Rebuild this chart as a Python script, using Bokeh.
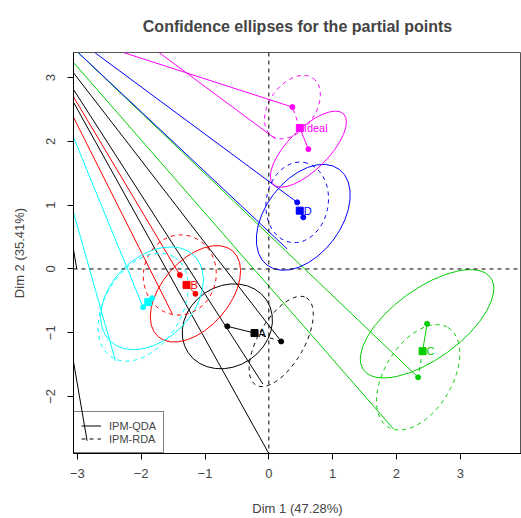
import numpy as np
from bokeh.plotting import figure
from bokeh.models import Range1d, FixedTicker, Span, Legend, LegendItem, ColumnDataSource
from bokeh.embed import file_html
from bokeh.resources import INLINE
from bokeh.core.properties import value

FONT = "Liberation Sans"

# ---- data ----
groups = ["A", "B", "C", "D", "Ideal", ""]
colors = ["#000000", "#FF0000", "#00CD00", "#0000FF", "#FF00FF", "#00FFFF"]
mean_x = [-0.224, -1.29, 2.41, 0.485, 0.486, -1.89]
mean_y = [-1.005, -0.25, -1.29, 0.915, 2.21, -0.52]
# partial points (IPM-QDA solid, IPM-RDA dashed)
qda_x = [-0.65, -1.15, 2.48, 0.54, 0.62, -1.83]
qda_y = [-0.90, -0.39, -0.86, 0.81, 1.88, -0.46]
rda_x = [0.194, -1.395, 2.34, 0.445, 0.37, -1.97]
rda_y = [-1.137, -0.094, -1.70, 1.045, 2.54, -0.60]
# confidence ellipses: semi-axes and angle (degrees)
qda_a = [0.74, 0.89, 1.23, 0.94, 0.78, 0.94]
qda_b = [0.63, 0.53, 0.55, 0.59, 0.32, 0.645]
qda_ang = [34, 49, 36, 53, 45, 45]
rda_a = [0.79, 0.63, 0.91, 0.635, 0.556, 0.925]
rda_b = [0.36, 0.57, 0.53, 0.486, 0.36, 0.60]
rda_ang = [60, 80, 59, 80, 54, 58]
# stray connector lines visible in the reference
stray_x0 = [-3.061, -3.061, -3.061, -3.061, -3.061, -3.061, -3.061, -3.061, -3.061,
            -3.061, -2.989, -2.728, -2.989, -2.279, -1.721]
stray_y0 = [3.077, 2.815, 2.615, 0.303, -1.455, 2.70, 2.38, 2.066, 0.889,
            3.239, 3.396, 3.396, 3.396, 3.396, 3.396]
stray_x1 = [0.194, -0.094, 0.0, -3.01, -2.848, -1.395, -1.512, -1.97, -2.404,
            1.956, 2.34, 0.445, 0.288, 0.37, 0.105]
stray_y1 = [-1.137, -1.805, -2.895, 0.0, -2.695, -0.094, -0.706, -0.60, -1.44,
            -2.512, -1.70, 1.045, 0.314, 2.54, 2.041]
stray_color = (["#000000"] * 5 + ["#FF0000"] * 2 + ["#00FFFF"] * 2
               + ["#00CD00"] * 2 + ["#0000FF"] * 2 + ["#FF00FF"] * 2)
x_ticks = [-3, -2, -1, 0, 1, 2, 3]
y_ticks = [-2, -1, 0, 1, 2, 3]

p = figure(width=521, height=518, output_backend="svg", toolbar_location=None,
           x_range=Range1d(-3.061, 3.96), y_range=Range1d(-2.895, 3.396),
           min_border_left=73, min_border_right=0, min_border_top=52,
           min_border_bottom=65)
p.background_fill_color = "white"
p.border_fill_color = "white"
p.grid.visible = False
p.outline_line_color = "#555555"
p.outline_line_width = 1

# a blank second line lifts the title higher above the frame
p.title.text = "Confidence ellipses for the partial points\n "
p.title.align = "center"
p.title.text_font = FONT
p.title.text_font_size = "16px"
p.title.text_font_style = "bold"
p.title.standoff = 2

for ax, ticks, lab in ((p.xaxis[0], x_ticks, "Dim 1 (47.28%)"),
                       (p.yaxis[0], y_ticks, "Dim 2 (35.41%)")):
    ax.ticker = FixedTicker(ticks=ticks)
    ax.axis_label = lab
    ax.axis_label_text_font = FONT
    ax.axis_label_text_font_size = "13px"
    ax.axis_label_text_font_style = "normal"
    ax.major_label_text_font = FONT
    ax.major_label_text_font_size = "13px"
    ax.major_tick_out = 6
    ax.major_tick_in = 0
    ax.minor_tick_out = 0
    ax.minor_tick_in = 0
    ax.axis_line_color = "black"
    ax.major_tick_line_color = "black"
p.xaxis.major_label_standoff = 9
p.xaxis.axis_label_standoff = 20
p.yaxis.major_label_standoff = 12
p.yaxis.major_label_orientation = "vertical"
p.yaxis.axis_label_standoff = 17

# reference lines
p.add_layout(Span(location=0, dimension="height", line_color="black", line_dash="4 4", line_width=1))
p.add_layout(Span(location=0, dimension="width", line_color="black", line_dash="4 4", line_width=1))

# stray lines
p.segment(x0=stray_x0, y0=stray_y0, x1=stray_x1, y1=stray_y1, line_color=stray_color, line_width=1)

src = ColumnDataSource(dict(
    mx=mean_x, my=mean_y, qx=qda_x, qy=qda_y, rx=rda_x, ry=rda_y,
    qw=[2 * a for a in qda_a], qh=[2 * b for b in qda_b], qang=qda_ang,
    rw=[2 * a for a in rda_a], rh=[2 * b for b in rda_b], rang=rda_ang,
    col=colors, lab=groups))

p.ellipse(x="qx", y="qy", width="qw", height="qh", angle="qang", angle_units="deg",
          source=src, fill_color=None, line_color="col", line_width=1)
p.ellipse(x="rx", y="ry", width="rw", height="rh", angle="rang", angle_units="deg",
          source=src, fill_color=None, line_color="col", line_width=1, line_dash="4 4")

seg_q = p.segment(x0="mx", y0="my", x1="qx", y1="qy", source=src, line_color="col", line_width=1)
seg_r = p.segment(x0="mx", y0="my", x1="rx", y1="ry", source=src, line_color="col", line_width=1,
                  line_dash="4 4")

p.scatter(x="qx", y="qy", source=src, marker="circle", size=5, fill_color="col", line_color="col")
p.scatter(x="rx", y="ry", source=src, marker="circle", size=5, fill_color="col", line_color="col")
p.scatter(x="mx", y="my", source=src, marker="square", size=7, fill_color="col", line_color="col")
p.text(x="mx", y="my", text="lab", source=src, text_color="col", x_offset=4,
       text_align="left", text_baseline="middle", text_font=value(FONT), text_font_size="11px")

# legend (group A rows are black)
leg = Legend(items=[LegendItem(label="IPM-QDA", renderers=[seg_q], index=0),
                    LegendItem(label="IPM-RDA", renderers=[seg_r], index=0)],
             location="bottom_left", margin=0, padding=7, spacing=0,
             glyph_width=20, glyph_height=13, label_height=13, label_standoff=8,
             label_text_font=FONT, label_text_font_size="11px",
             border_line_color="black", border_line_width=1,
             background_fill_alpha=0)
p.add_layout(leg)

open("out.html", "w").write(file_html(p, INLINE))
